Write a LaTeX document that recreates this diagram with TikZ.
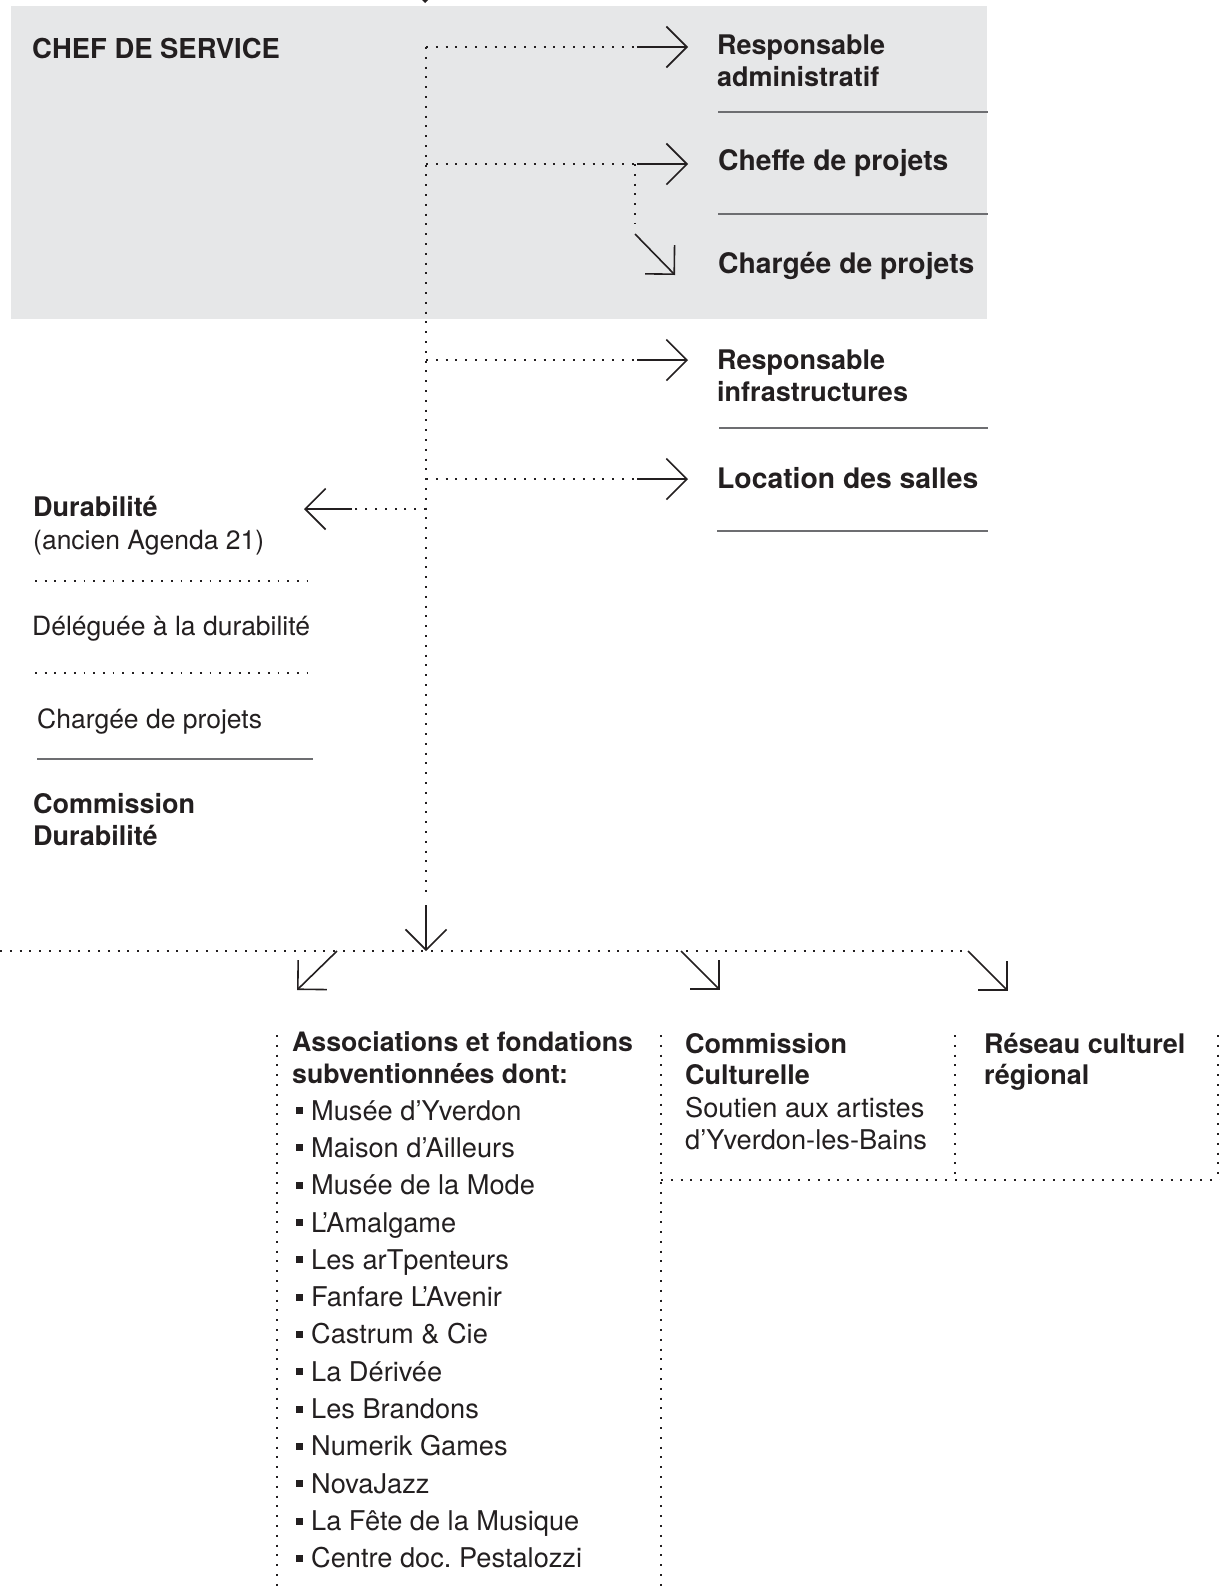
\documentclass[tikz,border=0pt]{standalone}
\usepackage{fontspec}
\setmainfont{TeX Gyre Heros}
\usetikzlibrary{arrows.meta}
\frenchspacing
\definecolor{ink}{HTML}{231F20}
\definecolor{boxgray}{HTML}{E6E7E8}
\definecolor{rulegray}{HTML}{6D6E71}
\tikzset{
  dots/.style={ink, line width=2pt, dash pattern=on 2pt off 7.8pt},
  fdots/.style={ink, line width=1.8pt, dash pattern=on 1.8pt off 7.9pt},
  arr/.style={ink, line width=1.6pt, -{Straight Barb[angle=90:29pt]}},
  sep/.style={rulegray, line width=1.4pt},
  bt/.style={font=\fontsize{27}{32}\selectfont\bfseries, anchor=base west, inner sep=0pt, text=ink},
  btl/.style={bt, font=\fontsize{28.3}{32}\selectfont\bfseries},
  rt/.style={font=\fontsize{27.2}{32}\selectfont, anchor=base west, inner sep=0pt, text=ink},
  rts/.style={rt, font=\fontsize{26.5}{32}\selectfont},
}
\newcommand{\bul}{\rule[6pt]{7pt}{7pt}\hspace{8pt}}
\begin{document}
\begin{tikzpicture}[x=1pt,y=-1pt]
\useasboundingbox (0,0) rectangle (1220,1591);
\clip (0,0) rectangle (1220,1591);
% grey box
\fill[boxgray] (11,6) rectangle (987,319);
% coordinates
\coordinate (ctop) at (425,-40);
\coordinate (ctip) at (425,3);
\coordinate (t0) at (426,47);
\coordinate (t1) at (426,164);
\coordinate (t2) at (426,360);
\coordinate (t3) at (426,479);
\coordinate (t4) at (426,509);
\coordinate (tend) at (426,893);
\coordinate (tarr) at (426,905);
\coordinate (tbot) at (426,951);
% texts right
\node[bt] (ra1) at (717,54) {Responsable};
\node[bt] (ra2) at (717,86) {administratif};
\node[btl] (cp) at (718,170) {Cheffe de projets};
\node[btl] (chp) at (718,273) {Chargée de projets};
\node[bt] (ri1) at (717,369) {Responsable};
\node[bt] (ri2) at (717,401) {infrastructures};
\node[btl] (ls) at (717,488) {Location des salles};
\node[bt, font=\fontsize{27.4}{32}\selectfont\bfseries] (cds) at (32,58) {CHEF DE SERVICE};
\draw[sep] (718,112) -- (988,112);
\draw[sep] (718,214) -- (988,214);
\draw[sep] (719,428) -- (988,428);
\draw[sep] (717,531) -- (988,531);
% left column
\node[bt] (du1) at (33,516) {Durabilité};
\node[rts] (du2) at (33,549) {(ancien Agenda 21)};
\draw[fdots] (35,581) -- (316,581);
\node[rts] (dd) at (32,635) {Déléguée à la durabilité};
\draw[fdots] (35,673) -- (316,673);
\node[rts] (cpl) at (37,728) {Chargée de projets};
\draw[sep] (37,759) -- (313,759);
\node[bt] (cd1) at (33,813) {Commission};
\node[bt] (cd2) at (33,845) {Durabilité};
% trunk and branches
\draw[arr] (ctop) -- (ctip);
\draw[dots] (t0) -- (tend);
\draw[dots] (t0) -- (637,47) coordinate (a0);
\draw[arr] (a0) -- (688,47);
\draw[dots] (t1) -- (637,164) coordinate (a1);
\draw[arr] (a1) -- (688,164);
\draw[dots] (635,164) coordinate (d1) -- (635,224);
\draw[arr] (635,234) -- (675,275);
\draw[dots] (t2) -- (637,360) coordinate (a2);
\draw[arr] (a2) -- (688,360);
\draw[dots] (t3) -- (637,479) coordinate (a3);
\draw[arr] (a3) -- (688,479);
\draw[dots] (t4) -- (352,509) coordinate (a4);
\draw[arr] (a4) -- (304,509);
% bottom
\draw[arr] (tarr) -- (tbot);
\draw[dots] (0,951) -- (966,951);
\draw[arr] (337,951) -- (297,990);
\draw[arr] (681,951) -- (720,990);
\draw[arr] (968,951) -- (1008,991);
% bottom columns
\draw[dots] (277,1035) -- (277,1591);
\draw[dots] (661,1035) -- (661,1591);
\draw[dots] (955,1035) -- (955,1180);
\draw[dots] (1218,1035) -- (1218,1180);
\draw[dots] (661,1180) -- (1220,1180);
\node[bt, font=\fontsize{26.7}{32}\selectfont\bfseries] (as1) at (292,1051) {Associations et fondations};
\node[bt, font=\fontsize{26.7}{32}\selectfont\bfseries] (as2) at (292,1083) {subventionnées dont:};
\foreach \t [count=\i from 0] in {Musée d’Yverdon, Maison d’Ailleurs, Musée de la Mode, L’Amalgame, Les arTpenteurs, Fanfare L’Avenir, Castrum \& Cie, La Dérivée, Les Brandons, Numerik Games, NovaJazz, La Fête de la Musique, Centre doc. Pestalozzi}
  \node[rt] (it\i) at (296,1120+\i*37.33) {\bul\t};
\node[bt] (cc1) at (685,1053) {Commission};
\node[bt] (cc2) at (685,1084) {Culturelle};
\node[rt] (cc3) at (685,1117) {Soutien aux artistes};
\node[rt] (cc4) at (685,1149) {d’Yverdon-les-Bains};
\node[bt] (rc1) at (984,1053) {Réseau culturel};
\node[bt] (rc2) at (984,1084) {régional};
\end{tikzpicture}
\end{document}
